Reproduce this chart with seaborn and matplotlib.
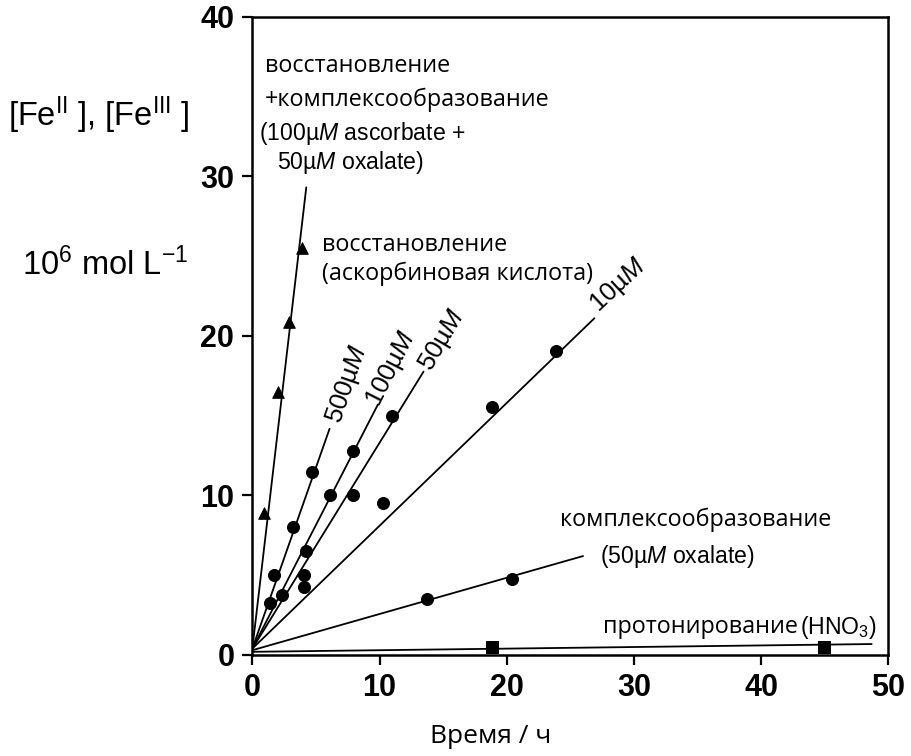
import numpy as np
import pandas as pd
import matplotlib
matplotlib.use("Agg")
import matplotlib.pyplot as plt
import seaborn as sns

# --- data (time in h, conc in 1e-6 mol/L) ---
tri_x = [0.94, 2.04, 2.9, 3.93]
tri_y = [8.9, 16.5, 20.9, 25.5]
asc500_x = [1.41, 1.73, 3.2, 4.69]
asc500_y = [3.26, 5.0, 8.0, 11.5]
asc100_x = [2.33, 6.13, 7.9]
asc100_y = [3.76, 10.05, 12.77]
asc50_x = [4.03, 4.24, 7.9, 11.0]
asc50_y = [5.0, 6.54, 10.05, 15.0]
asc10_x = [4.03, 10.3, 18.85, 23.9]
asc10_y = [4.28, 9.53, 15.55, 19.06]
ox_x = [13.7, 20.45]
ox_y = [3.53, 4.76]
hno3_x = [18.83, 44.96]
hno3_y = [0.52, 0.52]

# fitted straight lines: intercept, slope, x where the drawn line stops
fit_names = ["tri", "500", "100", "50", "10", "ox", "hno3"]
fit_b = [0.4, 0.4, 0.4, 0.4, 0.4, 0.3, 0.2]
fit_k = [6.82, 2.27, 1.55, 1.29, 0.77, 0.227, 0.01]
fit_xmax = [4.24, 6.07, 9.87, 13.46, 26.9, 26.0, 48.7]

sns.set_style("ticks")
plt.rcParams["font.family"] = ["Liberation Sans", "DejaVu Sans"]
plt.rcParams["mathtext.fontset"] = "custom"
plt.rcParams["mathtext.rm"] = "Liberation Sans"
plt.rcParams["mathtext.it"] = "Liberation Sans:italic"
plt.rcParams["mathtext.bf"] = "Liberation Sans:bold"
for key in ["text.color", "axes.labelcolor", "xtick.color", "ytick.color",
            "axes.edgecolor"]:
    plt.rcParams[key] = "black"

fig = plt.figure(figsize=(9.11, 7.56), dpi=100)
ax = fig.add_axes([0.277, 0.1336, 0.698, 0.844])

# fit lines
for b, k, xm in zip(fit_b, fit_k, fit_xmax):
    xs = np.array([0.0, xm])
    sns.lineplot(x=xs, y=b + k * xs, ax=ax, color="black", lw=1.3)

# measured points
sns.scatterplot(x=tri_x, y=tri_y, ax=ax, marker="^", s=70, color="black",
                edgecolor="black", zorder=5)
for xs, ys in [(asc500_x, asc500_y), (asc100_x, asc100_y), (asc50_x, asc50_y),
               (asc10_x, asc10_y), (ox_x, ox_y)]:
    sns.scatterplot(x=xs, y=ys, ax=ax, marker="o", s=75, color="black",
                    edgecolor="black", zorder=5)
sns.scatterplot(x=hno3_x, y=hno3_y, ax=ax, marker="s", s=85, color="black",
                edgecolor="black", zorder=5)

ax.set_xlim(0, 50)
ax.set_ylim(0, 40)
ax.set_xticks([0, 10, 20, 30, 40, 50])
ax.set_yticks([0, 10, 20, 30, 40])
ax.tick_params(direction="out", length=7, width=1.6, labelsize=22, pad=6)
for lab in ax.get_xticklabels() + ax.get_yticklabels():
    lab.set_fontweight("bold")
for sp in ax.spines.values():
    sp.set_linewidth(1.8)
    sp.set_visible(True)

cyr = "Open Sans"
hel = "Liberation Sans"
fs_c = 16.8
fs_h = 16.6

# annotations
ax.text(1.0, 36.9, "восстановление", family=cyr, fontsize=fs_c, va="center")
ax.text(1.0, 34.8, "+комплексообразование", family=cyr, fontsize=fs_c, va="center")
ax.text(0.55, 32.7, "(100µ$\\mathit{M}$ ascorbate +", family=hel, fontsize=fs_h,
        va="center")
ax.text(1.94, 30.85, "50µ$\\mathit{M}$ oxalate)", family=hel, fontsize=fs_h,
        va="center")

ax.text(5.5, 25.7, "восстановление", family=cyr, fontsize=fs_c, va="center")
ax.text(5.5, 23.9, "(аскорбиновая кислота)", family=cyr, fontsize=fs_c, va="center")

ax.text(7.5, 17.0, "500µ$\\mathit{M}$", family=hel, fontsize=18.5,
        rotation=71, ha="center", va="center", rotation_mode="anchor")
ax.text(10.96, 17.96, "100µ$\\mathit{M}$", family=hel, fontsize=18.5,
        rotation=63, ha="center", va="center", rotation_mode="anchor")
ax.text(14.93, 19.75, "50µ$\\mathit{M}$", family=hel, fontsize=18.5,
        rotation=59.5, ha="center", va="center", rotation_mode="anchor")
ax.text(28.75, 23.2, "10µ$\\mathit{M}$", family=hel, fontsize=18.5,
        rotation=43, ha="center", va="center", rotation_mode="anchor")

ax.text(24.2, 8.46, "комплексообразование", family=cyr, fontsize=fs_c, va="center")
ax.text(39.5, 6.2, "(50µ$\\mathit{M}$ oxalate)", family=hel, fontsize=fs_h,
        va="center", ha="right")
ax.text(27.55, 1.75, "протонирование", family=cyr, fontsize=fs_c, va="center")
ax.text(49.1, 1.75, "(HNO$_3$)", family=hel, fontsize=fs_h,
        va="center", ha="right")

ax.set_xlabel("Время / ч", family=cyr, fontsize=19, va="center")
ax.xaxis.set_label_coords((490 - 252) / 636, -(736 - 655) / 638)

fig.text(8 / 911, 1 - 115 / 756, "[Fe$^{\\mathrm{II}}$ ], [Fe$^{\\mathrm{III}}$ ]",
         family=hel, fontsize=23.5, va="center", ha="left")
fig.text(22 / 911, 1 - 265 / 756, "10$^{\\mathrm{6}}$ mol L$^{\\mathrm{-1}}$",
         family=hel, fontsize=23.5, va="center", ha="left")

fig.savefig("out.png", dpi=100)
